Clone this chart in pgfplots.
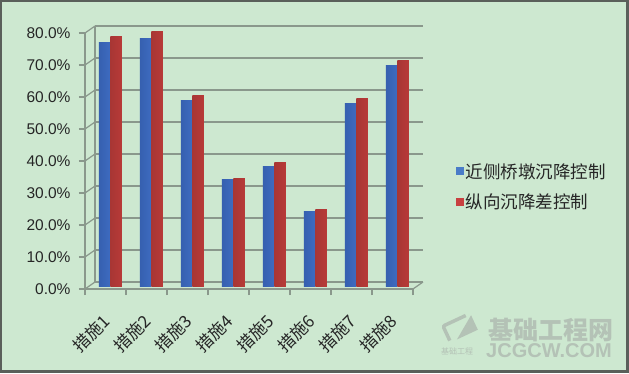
\documentclass[border=0pt]{standalone}
\usepackage{fontspec}
\setmainfont{Liberation Sans}
\newfontfamily\cjk{Noto Sans CJK SC}
\usepackage{pgfplots}
\pgfplotsset{compat=1.18}
\definecolor{bg}{HTML}{CDE8D0}
\definecolor{frame}{HTML}{5A5F5A}
\definecolor{gridc}{HTML}{8A988C}
\definecolor{bluedark}{HTML}{3660B0}
\definecolor{bluemid}{HTML}{3E6CC0}
\definecolor{bluelight}{HTML}{6C9CEA}
\definecolor{reddark}{HTML}{A83634}
\definecolor{redmid}{HTML}{B83A38}
\definecolor{redlight}{HTML}{E2625E}
\definecolor{legblue}{HTML}{4A7CC8}
\definecolor{legred}{HTML}{C84040}
\definecolor{wm}{HTML}{B4C2B6}
\pgfplotsset{
  bluebar/.style={ybar, bar width=11.5pt, bar shift=-5.75pt, draw=none, forget plot,
    left color=bluedark, middle color=bluelight, right color=bluemid, xshift=5pt, yshift=3pt},
  redbar/.style={ybar, bar width=11.5pt, bar shift=5.75pt, draw=none, forget plot,
    left color=reddark, middle color=redlight, right color=redmid, xshift=5pt, yshift=3pt},
}
\begin{document}
\begin{tikzpicture}[x=1pt,y=1pt]
\useasboundingbox (0,0) rectangle (629,373);
\fill[frame] (0,0) rectangle (629,373);
\fill[bg] (2,3) rectangle (626,371);
% watermark
\node[anchor=west, text=wm, font=\cjk\bfseries\fontsize{25}{27}\selectfont, inner sep=0pt] at (488,43) {基础工程网};
\node[anchor=west, text=wm, font=\bfseries\fontsize{20}{22}\selectfont, inner sep=0pt] at (486,22) {JCGCW.COM};
\node[anchor=west, text=wm, font=\cjk\fontsize{8}{9}\selectfont, inner sep=0pt] at (441,22) {基础工程};
\begin{scope}[shift={(460,46)}, rotate=25]
\draw[wm, line width=3.5pt, rounded corners=2pt] (-15,-8) -- (-15,8) -- (10,8);
\fill[wm] (-8,-10) -- (15,-10) -- (15,6) -- cycle;
\end{scope}
\begin{axis}[
  at={(85pt,84pt)}, anchor=south west, scale only axis,
  width=328pt, height=256pt,
  xmin=0.5, xmax=8.5, ymin=0, ymax=80,
  axis line style={gridc, line width=1.2pt},
  axis x line*=bottom, axis y line*=left,
  ytick={0,10,...,80},
  yticklabel={\pgfmathprintnumber[fixed,fixed zerofill,precision=1]{\tick}\%},
  /pgf/number format/assume math mode=true,
  yticklabel style={font=\fontsize{15.5}{17}\selectfont, text=black!85, xshift=-5pt},
  ytick style={gridc, line width=1.2pt},
  tick align=outside, major tick length=6pt,
  xtick={1,...,8},
  xticklabels={措施1,措施2,措施3,措施4,措施5,措施6,措施7,措施8},
  x tick style={draw=none},
  xticklabel style={font=\cjk\fontsize{17}{19}\selectfont, text=black!85, xshift=2pt, yshift=-22pt, rotate=45, anchor=east, inner sep=1pt},
  extra x ticks={0.5,1.5,...,8.5},
  extra x tick labels={},
  extra x tick style={x tick style={draw=gridc, line width=1.2pt}, grid=none},
  legend style={at={(1.12,0.40)}, anchor=west, draw=none, fill=none,
    font=\cjk\fontsize{17.5}{19}\selectfont, text=black!85, row sep=10pt},
  legend cell align=left,
  legend image code/.code={\fill[#1] (0pt,-4pt) rectangle (8pt,4pt);},
  clip=false,
]
% back wall, floor and grid (3D look)
\pgfplotsinvokeforeach{0,10,...,80}{
  \draw[gridc, line width=1.2pt] ([shift={(10pt,7pt)}]axis cs:0.5,#1) -- ([shift={(10pt,7pt)}]axis cs:8.5,#1);
  \draw[gridc, line width=1.2pt] (axis cs:0.5,#1) -- ([shift={(10pt,7pt)}]axis cs:0.5,#1);
}
\draw[gridc, line width=1.2pt] ([shift={(10pt,7pt)}]axis cs:0.5,0) -- ([shift={(10pt,7pt)}]axis cs:0.5,80);
\draw[gridc, line width=1.2pt] (axis cs:8.5,0) -- ([shift={(10pt,7pt)}]axis cs:8.5,0);
\addlegendimage{fill=legblue, draw=none}
\addlegendentry{近侧桥墩沉降控制}
\addlegendimage{fill=legred, draw=none}
\addlegendentry{纵向沉降差控制}
% 近侧桥墩沉降控制
\addplot[bluebar] coordinates {(1,76.0)};
\addplot[bluebar] coordinates {(2,77.5)};
\addplot[bluebar] coordinates {(3,58.0)};
\addplot[bluebar] coordinates {(4,33.3)};
\addplot[bluebar] coordinates {(5,37.5)};
\addplot[bluebar] coordinates {(6,23.3)};
\addplot[bluebar] coordinates {(7,57.0)};
\addplot[bluebar] coordinates {(8,69.0)};
% 纵向沉降差控制
\addplot[redbar] coordinates {(1,78.0)};
\addplot[redbar] coordinates {(2,79.5)};
\addplot[redbar] coordinates {(3,59.5)};
\addplot[redbar] coordinates {(4,33.7)};
\addplot[redbar] coordinates {(5,38.5)};
\addplot[redbar] coordinates {(6,23.8)};
\addplot[redbar] coordinates {(7,58.5)};
\addplot[redbar] coordinates {(8,70.5)};
\end{axis}
\end{tikzpicture}
\end{document}
